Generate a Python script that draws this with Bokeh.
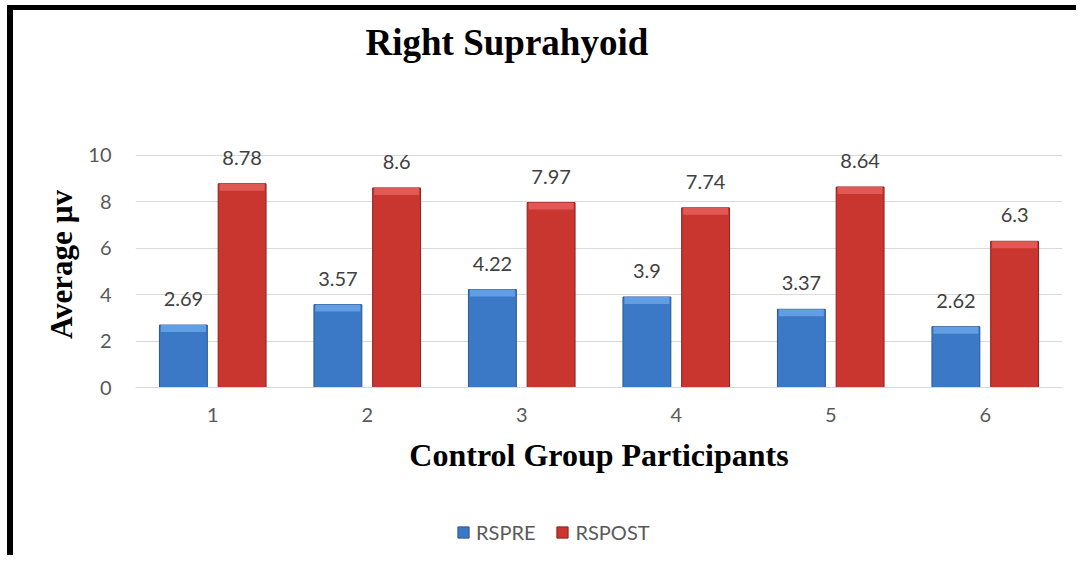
from bokeh.plotting import figure
from bokeh.models import ColumnDataSource, Legend, LegendItem, FactorRange, Title, Range1d
from bokeh.layouts import column
from bokeh.transform import dodge
from bokeh.core.properties import value
from bokeh.embed import file_html
from bokeh.resources import INLINE

participants = ["1", "2", "3", "4", "5", "6"]
rspre = [2.69, 3.57, 4.22, 3.9, 3.37, 2.62]
rspost = [8.78, 8.6, 7.97, 7.74, 8.64, 6.3]
y_ticks = [0, 2, 4, 6, 8, 10]
series_names = ["RSPRE", "RSPOST"]

src = ColumnDataSource(dict(
    x=participants,
    pre=rspre,
    post=rspost,
    pre_lbl=[f"{v:g}" for v in rspre],
    post_lbl=[f"{v:g}" for v in rspost],
    pre_hi_bottom=[v - 0.3 for v in rspre],
    post_hi_bottom=[v - 0.3 for v in rspost],
))

SERIF = "Liberation Serif"
SANS = "Lato"
BLUE, BLUE_EDGE = "#3B79C7", "#2A568E"
RED, RED_EDGE = "#C9352F", "#872220"
W = 0.31

xr = FactorRange(*participants)
p = figure(width=1063, height=505, x_range=xr, y_range=(0, 10.6),
           title=None, output_backend="svg", toolbar_location=None,
           min_border_left=122, min_border_right=14, min_border_top=131, min_border_bottom=128)

# spacer between frame and title (closest to the frame), then the title itself
p.add_layout(Title(text=" ", text_font_size="1px", standoff=74), "above")
p.add_layout(Title(text="Right Suprahyoid", text_font=SERIF, text_font_size="37px",
                   text_font_style="bold", text_color="black", align="left",
                   offset=230, standoff=4), "above")

p.outline_line_color = None
p.xgrid.grid_line_color = None
p.ygrid.grid_line_color = "#D9D9D9"
p.ygrid.grid_line_width = 1
p.yaxis.ticker = y_ticks
p.yaxis.axis_line_color = None
p.yaxis.major_tick_line_color = None
p.yaxis.minor_tick_line_color = None
p.yaxis.major_tick_out = 0
p.yaxis.minor_tick_out = 0
p.yaxis.major_label_standoff = 24
p.yaxis.major_label_text_font = SANS
p.yaxis.major_label_text_font_size = "20px"
p.yaxis.major_label_text_color = "#595959"
p.yaxis.axis_label = "Average µv"
p.yaxis.axis_label_text_font = SERIF
p.yaxis.axis_label_text_font_size = "31px"
p.yaxis.axis_label_text_font_style = "bold"
p.yaxis.axis_label_text_color = "black"
p.yaxis.axis_label_standoff = 6

p.xaxis.axis_line_color = "#D9D9D9"
p.xaxis.major_tick_line_color = None
p.xaxis.minor_tick_line_color = None
p.xaxis.major_tick_out = 0
p.xaxis.minor_tick_out = 0
p.xaxis.major_label_standoff = 20
p.xaxis.major_label_text_font = SANS
p.xaxis.major_label_text_font_size = "20px"
p.xaxis.major_label_text_color = "#595959"
p.xaxis.axis_label = "Control Group Participants"
p.xaxis.axis_label_text_font = SERIF
p.xaxis.axis_label_text_font_size = "32px"
p.xaxis.axis_label_text_font_style = "bold"
p.xaxis.axis_label_text_color = "black"
p.xaxis.axis_label_standoff = 12

p.vbar(x=dodge("x", -0.19, range=xr), top="pre", width=W, source=src,
       fill_color=BLUE, line_color=BLUE_EDGE, line_width=1)
p.vbar(x=dodge("x", 0.19, range=xr), top="post", width=W, source=src,
       fill_color=RED, line_color=RED_EDGE, line_width=1)
# top bevel highlights
p.vbar(x=dodge("x", -0.19, range=xr), top="pre", bottom="pre_hi_bottom", width=W * 0.94,
       source=src, fill_color="#619EE3", line_color=None)
p.vbar(x=dodge("x", 0.19, range=xr), top="post", bottom="post_hi_bottom", width=W * 0.94,
       source=src, fill_color="#E05954", line_color=None)

p.text(x=dodge("x", -0.19, range=xr), y="pre", text="pre_lbl", source=src,
       text_align="center", text_baseline="alphabetic", y_offset=-26,
       text_font=value(SANS), text_font_size="20px", text_color="#404040")
p.text(x=dodge("x", 0.19, range=xr), y="post", text="post_lbl", source=src,
       text_align="center", text_baseline="alphabetic", y_offset=-26,
       text_font=value(SANS), text_font_size="20px", text_color="#404040")

# legend strip below the chart
lg = figure(width=1063, height=40, x_range=xr, y_range=Range1d(0, 10),
            output_backend="svg", toolbar_location=None,
            min_border_left=0, min_border_right=0, min_border_top=0, min_border_bottom=0)
lg.axis.visible = False
lg.grid.visible = False
lg.outline_line_color = None
l_pre = lg.vbar(x=dodge("x", -0.19, range=xr), top="pre", width=W, source=src,
                fill_color=BLUE, line_color=BLUE_EDGE, visible=False)
l_post = lg.vbar(x=dodge("x", 0.19, range=xr), top="post", width=W, source=src,
                 fill_color=RED, line_color=RED_EDGE, visible=False)
legend = Legend(items=[LegendItem(label=series_names[0], renderers=[l_pre]),
                       LegendItem(label=series_names[1], renderers=[l_post])],
                orientation="horizontal", location=(321, 11),
                border_line_color=None, background_fill_alpha=0,
                inactive_fill_alpha=0,
                padding=0, margin=0, spacing=20, label_standoff=6,
                glyph_width=14, glyph_height=14,
                label_text_font=SANS, label_text_font_size="20px", label_text_color="#595959")
lg.add_layout(legend, "center")

layout = column(p, lg, spacing=0)
layout.styles = {"border-top": "5px solid black", "border-left": "6px solid black",
                 "margin-top": "5px", "margin-left": "7px"}

open("out.html", "w").write(file_html(layout, INLINE))
